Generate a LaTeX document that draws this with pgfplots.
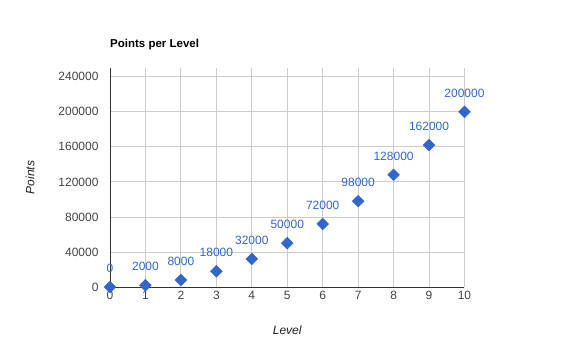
\documentclass[border=0pt]{standalone}
\usepackage{pgfplots}
\pgfplotsset{compat=1.18}
\usepackage{fontspec}
\setmainfont{Liberation Sans}
\definecolor{gblue}{HTML}{3366CC}
\definecolor{ggrid}{HTML}{CCCCCC}
\definecolor{gtick}{HTML}{444444}
\definecolor{gaxis}{HTML}{333333}
\begin{document}
\begin{tikzpicture}[x=1pt,y=1pt]
\path[use as bounding box] (-110,-67) rectangle (464,287);
\begin{axis}[
  at={(0,0)}, anchor=origin,
  scale only axis, width=354.5pt, height=219pt,
  xmin=0, xmax=10, ymin=0, ymax=250000,
  xtick={0,1,...,10}, ytick={0,40000,...,240000},
  scaled y ticks=false,
  /pgf/number format/assume math mode=true,
  yticklabel={\pgfmathprintnumber[fixed,1000 sep={}]{\tick}},
  major tick length=0pt,
  axis x line=bottom, axis y line=left,
  axis line style={-, gaxis, line width=0.9pt},
  grid=major, major grid style={ggrid, line width=0.8pt},
  tick label style={font=\fontsize{12}{14}\selectfont, text=gtick},
  yticklabel style={xshift=-8pt},
  xticklabel style={yshift=-1pt},
  title={Points per Level},
  title style={at={(rel axis cs:0,1)}, anchor=base west, inner sep=0pt, yshift=15pt, font=\fontsize{11.5}{13}\selectfont\bfseries},
  xlabel={Level}, ylabel={Points},
  every axis x label/.style={at={(rel axis cs:0.5,0)}, anchor=base, yshift=-47pt, font=\fontsize{12}{14}\selectfont\itshape, text=black!87},
  every axis y label/.style={at={(rel axis cs:0,0.5)}, xshift=-80pt, rotate=90, anchor=center, font=\fontsize{12}{14}\selectfont\itshape, text=black!87},
  clip=false,
]
\addplot[only marks, mark=square*, mark size=4.2pt, mark options={rotate=45, fill=gblue, draw=gblue},
  nodes near coords, point meta=explicit symbolic,
  every node near coord/.style={anchor=base, inner sep=0pt, yshift=14.5pt, text=gblue, font=\fontsize{12}{14}\selectfont}]
  table[meta=label] {
x y label
0 0 0
1 2000 2000
2 8000 8000
3 18000 18000
4 32000 32000
5 50000 50000
6 72000 72000
7 98000 98000
8 128000 128000
9 162000 162000
10 200000 200000
};
\end{axis}
\end{tikzpicture}
\end{document}
